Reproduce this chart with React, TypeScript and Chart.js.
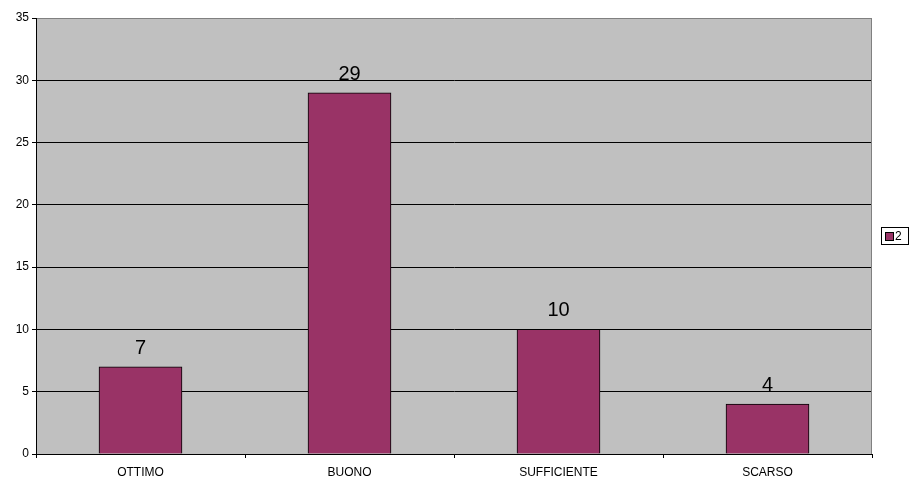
import React, { useEffect, useRef } from "react";
import { Chart, registerables } from "chart.js";

Chart.register(...registerables);

const categories = ["OTTIMO", "BUONO", "SUFFICIENTE", "SCARSO"];
const values = [7, 29, 10, 4];
const seriesName = "2";
const yTicks = [0, 5, 10, 15, 20, 25, 30, 35];

const FONT = "'Liberation Sans', Arial, sans-serif";
const BAR_COLOR = "#993366";

export default function App() {
  const ref = useRef<HTMLCanvasElement | null>(null);

  useEffect(() => {
    const canvas = ref.current;
    if (!canvas) return;

    const bgPlugin = {
      id: "bg",
      beforeDraw(chart: any) {
        const { ctx, chartArea: a } = chart;
        ctx.save();
        ctx.fillStyle = "#C0C0C0";
        ctx.fillRect(a.left, a.top, a.right - a.left, a.bottom - a.top);
        ctx.restore();
      },
      afterDraw(chart: any) {
        const { ctx, chartArea: a } = chart;
        ctx.save();
        // right border gray
        ctx.strokeStyle = "#808080";
        ctx.lineWidth = 1;
        ctx.beginPath();
        ctx.moveTo(Math.round(a.right) - 0.5, a.top);
        ctx.lineTo(Math.round(a.right) - 0.5, a.bottom);
        ctx.stroke();
        // data labels
        const meta = chart.getDatasetMeta(0);
        ctx.fillStyle = "#000";
        ctx.font = "20px " + FONT;
        ctx.textAlign = "center";
        ctx.textBaseline = "alphabetic";
        meta.data.forEach((bar: any, i: number) => {
          ctx.fillText(String(values[i]), bar.x, bar.y - 13);
        });
        // legend
        ctx.strokeStyle = "#000";
        ctx.fillStyle = "#fff";
        ctx.fillRect(881.5, 227.5, 27, 17);
        ctx.strokeRect(881.5, 227.5, 27, 17);
        ctx.fillStyle = BAR_COLOR;
        ctx.fillRect(885.5, 232.5, 8, 8);
        ctx.strokeRect(885.5, 232.5, 8, 8);
        ctx.fillStyle = "#000";
        ctx.font = "12px " + FONT;
        ctx.textAlign = "left";
        ctx.textBaseline = "middle";
        ctx.fillText(seriesName, 895, 237);
        ctx.restore();
      },
    };

    const chart = new Chart(canvas, {
      type: "bar",
      data: {
        labels: categories,
        datasets: [
          {
            label: seriesName,
            data: values,
            backgroundColor: BAR_COLOR,
            borderColor: "#000",
            borderWidth: 1,
            barThickness: 83,
            categoryPercentage: 1,
          },
        ],
      },
      options: {
        responsive: false,
        animation: false,
        devicePixelRatio: 1,
        layout: { padding: { left: 0, top: 18, right: 39, bottom: 0 } },
        plugins: {
          legend: { display: false },
          tooltip: { enabled: false },
        },
        scales: {
          x: {
            grid: {
              offset: true,
              drawOnChartArea: false,
              drawTicks: true,
              tickLength: 4,
              color: "#000",
            },
            border: { display: true, color: "#000", width: 1 },
            ticks: {
              color: "#000",
              font: { family: FONT, size: 12 },
              padding: 7,
              maxRotation: 0,
            },
            afterFit(scale: any) {
              scale.height = 26;
            },
          },
          y: {
            min: 0,
            max: 35,
            afterBuildTicks(scale: any) {
              scale.ticks = yTicks.map((v) => ({ value: v }));
            },
            grid: {
              color: (c: any) => (c.tick && c.tick.value === 35 ? "#808080" : "#000"),
              tickColor: "#000",
              tickLength: 4,
              lineWidth: 1,
            },
            border: { display: true, color: "#000", width: 1 },
            ticks: {
              color: "#000",
              font: { family: FONT, size: 12 },
              padding: 3,
            },
            afterFit(scale: any) {
              scale.width = 36;
            },
          },
        },
      },
      plugins: [bgPlugin],
    });

    return () => chart.destroy();
  }, []);

  return (
    <div style={{ position: "fixed", left: 0, top: 0, width: 911, height: 480, background: "#fff" }}>
      <canvas ref={ref} width={911} height={480} style={{ width: 911, height: 480 }} />
    </div>
  );
}
